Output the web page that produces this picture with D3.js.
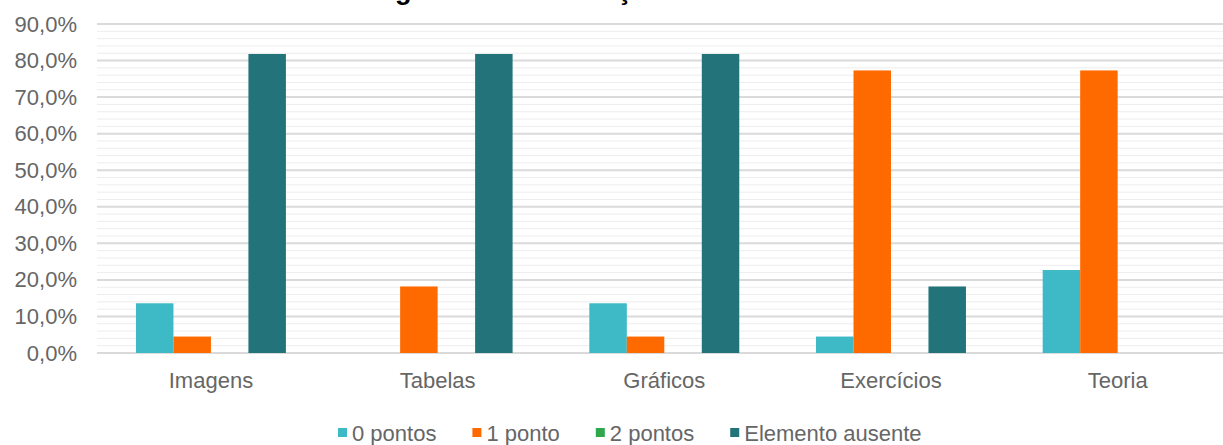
<!DOCTYPE html>
<html><head><meta charset="utf-8">
<script src="https://cdn.jsdelivr.net/npm/d3@7"></script>
<style>html,body{margin:0;padding:0;background:#fff;overflow:hidden}text{font-family:"Liberation Sans",Arial,sans-serif}</style>
</head><body>
<svg id="c" width="1223" height="445"></svg>
<script>
const categories = ["Imagens","Tabelas","Gráficos","Exercícios","Teoria"];
const seriesNames = ["0 pontos","1 ponto","2 pontos","Elemento ausente"];
const s0 = [13.6, 0, 13.6, 4.5, 22.7];
const s1 = [4.5, 18.2, 4.5, 77.3, 77.3];
const s2 = [0, 0, 0, 0, 0];
const s3 = [81.8, 81.8, 81.8, 18.2, 0];
const colors = ["#3dbac5","#ff6a00","#2fa84c","#22737a"];
const yTicks = [0,10,20,30,40,50,60,70,80,90];
const titleText = "Figura 4 – Distribuição dos elementos";

const series = [s0,s1,s2,s3];
const svg = d3.select("#c");
const x = d3.scaleBand().domain(categories).range([97.6, 1231]).paddingInner(0.3385).paddingOuter(0.16925);
const xs = d3.scaleBand().domain(d3.range(4)).range([0, x.bandwidth()]);
const y = d3.scaleLinear().domain([0,90]).range([353,24]);

// title (cropped at the top edge, as in the reference)
const t = svg.append("text").attr("y",-1).attr("font-weight","bold").attr("font-size",27).attr("fill","#000").text(titleText);
try{
  const gi = titleText.indexOf("g"), ci = titleText.indexOf("ç");
  let p1 = t.node().getStartPositionOfChar(gi).x, p2 = t.node().getStartPositionOfChar(ci).x;
  const fs = 27*(222/(p2-p1));
  t.attr("font-size",fs);
  p1 = t.node().getStartPositionOfChar(gi).x;
  t.attr("x",395-p1).attr("y",-1);
}catch(e){}

// gridlines
const minor = d3.range(0,91,2);
svg.append("g").selectAll("line").data(minor.filter(v=>v%10!==0)).join("line")
  .attr("x1",97).attr("x2",1223).attr("y1",d=>y(d)).attr("y2",d=>y(d))
  .attr("stroke","#ededed").attr("stroke-width",1);
svg.append("g").selectAll("line").data(yTicks).join("line")
  .attr("x1",97).attr("x2",1223).attr("y1",d=>y(d)).attr("y2",d=>y(d))
  .attr("stroke","#dadada").attr("stroke-width",2);

// y axis labels
const yAxis = d3.axisLeft(y).tickValues(yTicks).tickSize(0).tickPadding(0)
  .tickFormat(d=>d3.format(".1f")(d).replace(".",",")+"%");
const ya = svg.append("g").attr("transform","translate(77,0)").call(yAxis);
ya.select(".domain").remove();
ya.selectAll("text").attr("font-size",22).attr("fill","#666").attr("font-family","'Liberation Sans',Arial,sans-serif");

// bars
categories.forEach((c,ci)=>{
  series.forEach((s,si)=>{
    if(s[ci]<=0) return;
    svg.append("rect").attr("x",x(c)+xs(si)).attr("width",xs.bandwidth())
      .attr("y",y(s[ci])).attr("height",y(0)-y(s[ci])).attr("fill",colors[si]);
  });
});

// x axis labels
const xAxis = d3.axisBottom(x).tickSize(0).tickPadding(0);
const xa = svg.append("g").attr("transform","translate(0,371)").call(xAxis);
xa.select(".domain").remove();
xa.selectAll("text").attr("font-size",22).attr("fill","#666").attr("dy","0.75em").attr("font-family","'Liberation Sans',Arial,sans-serif");

// legend
let lx = 338;
const lg = svg.append("g");
seriesNames.forEach((n,i)=>{
  lg.append("rect").attr("x",lx).attr("y",428).attr("width",9).attr("height",9).attr("fill",colors[i]);
  const tt = lg.append("text").attr("x",lx+14).attr("y",441).attr("font-size",22).attr("fill","#666").text(n);
  lx += 14 + tt.node().getComputedTextLength() + 36;
});
</script>
</body></html>
